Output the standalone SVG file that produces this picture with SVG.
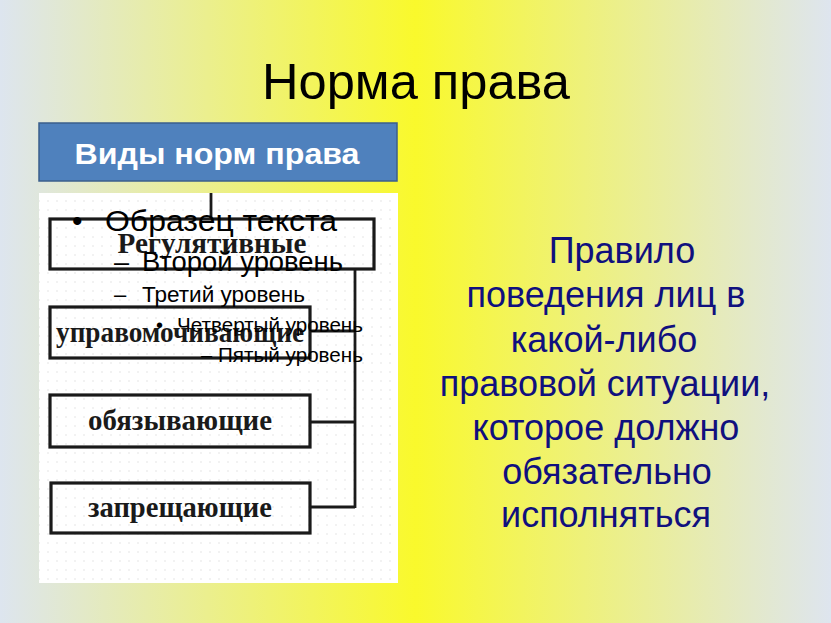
<svg xmlns="http://www.w3.org/2000/svg" width="831" height="623" viewBox="0 0 831 623">
  <defs>
    <linearGradient id="bg" x1="0" y1="0" x2="1" y2="0">
      <stop offset="0" stop-color="#dde5ef"/>
      <stop offset="0.5" stop-color="#f9f92c"/>
      <stop offset="1" stop-color="#dee5ef"/>
    </linearGradient>
    <pattern id="dots" width="9" height="9" patternUnits="userSpaceOnUse">
      <rect width="9" height="9" fill="#ffffff"/>
      <circle cx="3" cy="3" r="0.8" fill="#e2e2e2"/>
    </pattern>
    <style>
      .scanbox { fill: none; stroke: #1a1a1a; stroke-width: 3.2; }
      .conn { fill: none; stroke: #1a1a1a; stroke-width: 2.8; }
      .scanlbl { font-family: "Liberation Serif", "DejaVu Serif", serif; font-weight: bold; font-size: 30px; fill: #1a1a1a; text-anchor: middle; }
      .ph { font-family: "Liberation Sans", Arial, sans-serif; fill: #000000; }
      .def { font-family: "Liberation Sans", Arial, sans-serif; font-size: 36px; fill: #10107e; text-anchor: middle; }
    </style>
  </defs>

  <rect x="0" y="0" width="831" height="623" fill="url(#bg)"/>

  <g id="title">
    <text x="416" y="99" font-family="Liberation Sans, Arial, sans-serif" font-size="50" fill="#000" text-anchor="middle" textLength="308" lengthAdjust="spacingAndGlyphs">Норма права</text>
  </g>

  <g id="header">
    <rect x="39" y="123" width="358" height="58" fill="#4f81bd" stroke="#3b5f8c" stroke-width="1.5"/>
    <text x="217" y="164" font-family="Liberation Sans, Arial, sans-serif" font-weight="bold" font-size="30" fill="#ffffff" text-anchor="middle" textLength="285" lengthAdjust="spacingAndGlyphs">Виды норм права</text>
  </g>

  <g id="scan-panel">
    <rect x="39" y="193" width="359" height="390" fill="url(#dots)"/>
  </g>

  <g id="connectors">
    <line class="conn" x1="211" y1="193" x2="211" y2="219"/>
    <line class="conn" x1="355" y1="269" x2="355" y2="508"/>
    <line class="conn" x1="310" y1="331" x2="355" y2="331"/>
    <line class="conn" x1="310" y1="422" x2="355" y2="422"/>
    <line class="conn" x1="310" y1="507" x2="355" y2="507"/>
  </g>

  <g id="node-regulative">
    <rect class="scanbox" x="50" y="219" width="324" height="50"/>
    <text class="scanlbl" x="212" y="253" textLength="189" lengthAdjust="spacingAndGlyphs">Регулятивные</text>
  </g>
  <g id="node-empowering">
    <rect class="scanbox" x="50" y="307" width="260" height="51"/>
    <text class="scanlbl" x="180" y="342" textLength="248" lengthAdjust="spacingAndGlyphs">управомочивающие</text>
  </g>
  <g id="node-obliging">
    <rect class="scanbox" x="50" y="395" width="260" height="52"/>
    <text class="scanlbl" x="180" y="430" textLength="184" lengthAdjust="spacingAndGlyphs">обязывающие</text>
  </g>
  <g id="node-prohibiting">
    <rect class="scanbox" x="51" y="483" width="259" height="50"/>
    <text class="scanlbl" x="180" y="517" textLength="184" lengthAdjust="spacingAndGlyphs">запрещающие</text>
  </g>

  <g id="placeholder-text">
    <text class="ph" x="72" y="231" font-size="30">•</text>
    <text class="ph" x="105" y="231" font-size="30" textLength="232" lengthAdjust="spacingAndGlyphs">Образец текста</text>
    <text class="ph" x="114" y="271" font-size="27">–</text>
    <text class="ph" x="142" y="271" font-size="27" textLength="201" lengthAdjust="spacingAndGlyphs">Второй уровень</text>
    <text class="ph" x="114" y="302" font-size="22">–</text>
    <text class="ph" x="142" y="302" font-size="22" textLength="163" lengthAdjust="spacingAndGlyphs">Третий уровень</text>
    <text class="ph" x="156" y="332" font-size="20">•</text>
    <text class="ph" x="177" y="332" font-size="20" textLength="186" lengthAdjust="spacingAndGlyphs">Четвертый уровень</text>
    <text class="ph" x="201" y="362" font-size="20">–</text>
    <text class="ph" x="218" y="362" font-size="20" textLength="145" lengthAdjust="spacingAndGlyphs">Пятый уровень</text>
  </g>

  <g id="definition">
    <text class="def" x="622" y="263">Правило</text>
    <text class="def" x="606" y="307">поведения лиц в</text>
    <text class="def" x="604" y="352">какой-либо</text>
    <text class="def" x="605" y="396">правовой ситуации,</text>
    <text class="def" x="606" y="440">которое должно</text>
    <text class="def" x="607" y="484">обязательно</text>
    <text class="def" x="606" y="527">исполняться</text>
  </g>
</svg>
